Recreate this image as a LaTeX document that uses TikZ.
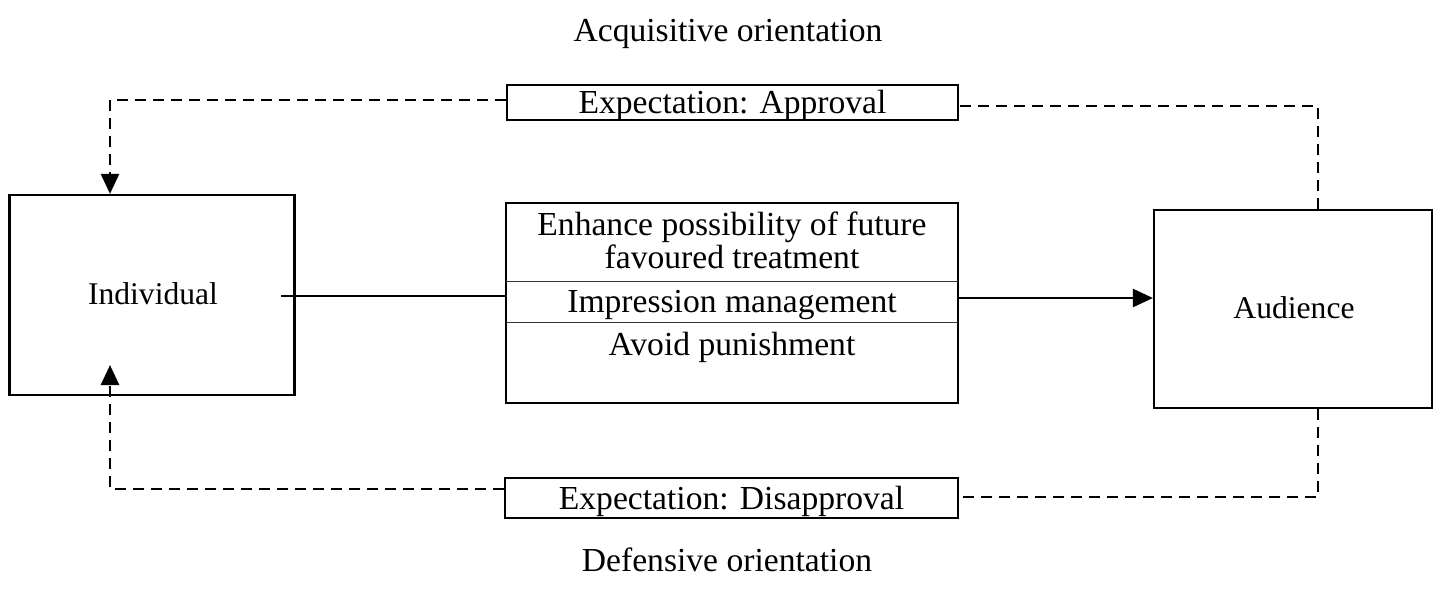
\documentclass[tikz,border=0pt]{standalone}
\usepackage{fontspec}
\setmainfont{Liberation Serif}
\usetikzlibrary{arrows.meta}

\tikzset{
  box/.style={draw, line width=1.1pt, inner sep=0pt},
  lbl/.style={inner sep=0pt, anchor=base, font=\fontsize{16.8pt}{18pt}\selectfont},
  actor/.style={inner sep=0pt, anchor=base, font=\fontsize{15.8pt}{17pt}\selectfont},
  feedback/.style={line width=1.3pt, dash pattern=on 5.5pt off 3.5pt},
  link/.style={line width=1.2pt},
  tip/.style={-{Triangle[length=10pt,width=9pt]}},
  divider/.style={line width=0.5pt, black!80}
}

\begin{document}
\begin{tikzpicture}[x=0.5pt, y=-0.5pt]
  \useasboundingbox (0,0) rectangle (1436,591);

  % captions
  \node[lbl] (acq) at (728,41) {Acquisitive orientation};
  \node[lbl] (def) at (727,571) {Defensive orientation};

  % main boxes
  \node[box, minimum width=142.5pt, minimum height=100pt] (ind) at (152,295) {};
  \node[actor] (indtxt) at (153,304) {Individual};
  \node[box, minimum width=139pt, minimum height=99pt] (aud) at (1293,309) {};
  \node[actor] (audtxt) at (1294,318) {Audience};

  % central box with its three motives
  \node[box, minimum width=226pt, minimum height=100pt] (mid) at (732,303) {};
  \node[lbl] (m1) at (732,235) {Enhance possibility of future};
  \node[lbl] (m2) at (732,268) {favoured treatment};
  \node[lbl] (m3) at (732,312) {Impression management};
  \node[lbl] (m4) at (732,355) {Avoid punishment};
  \coordinate (d1w) at (506,281); \coordinate (d1e) at (958,281);
  \coordinate (d2w) at (506,322); \coordinate (d2e) at (958,322);
  \draw[divider] (d1w) -- (d1e);
  \draw[divider] (d2w) -- (d2e);

  % expectation boxes
  \node[box, minimum width=225.5pt, minimum height=17.5pt] (appr) at (732.5,102.5) {};
  \node[lbl] (apprtxt) at (732.5,113) {Expectation: Approval};
  \node[box, minimum width=226.5pt, minimum height=20pt] (disa) at (731.5,498) {};
  \node[lbl] (disatxt) at (731.5,509) {Expectation: Disapproval};

  % forward path
  \coordinate (start) at (281,296);
  \draw[link] (start) -- (mid.west |- start);
  \draw[link, tip] (mid.east |- 0,298) -- (aud.west |- 0,298);

  % acquisitive feedback loop
  \coordinate (tl) at (110,100);
  \coordinate (tr) at (1318,106);
  \draw[feedback] (aud.north -| tr) -- (tr) -- (appr.east |- tr);
  \draw[feedback, tip] (appr.west |- tl) -- (tl) -- (ind.north -| tl);

  % defensive feedback loop
  \coordinate (bl) at (110,489);
  \coordinate (br) at (1318,497);
  \coordinate (up) at (110,365);
  \draw[feedback] (aud.south -| br) -- (br) -- (disa.east |- br);
  \draw[feedback, tip] (disa.west |- bl) -- (bl) -- (up);
\end{tikzpicture}
\end{document}
